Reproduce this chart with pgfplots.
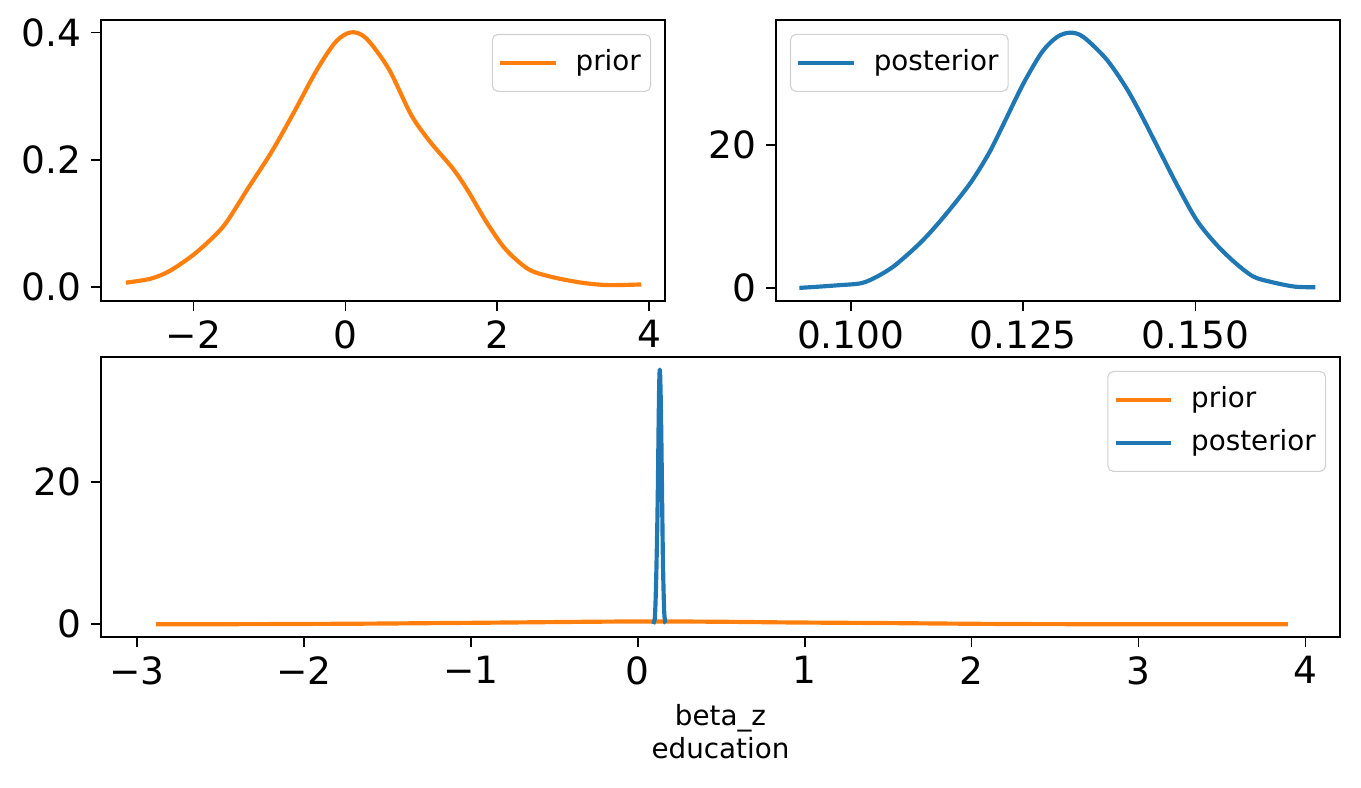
\documentclass[border=0pt]{standalone}
\usepackage{pgfplots}
\pgfplotsset{compat=1.18}
\usepackage{pgfplotstable}
\usepackage{fontspec}
\setmainfont{DejaVu Sans}
\definecolor{tabblue}{HTML}{1F77B4}
\definecolor{taborange}{HTML}{FF7F0E}

\pgfplotstableread{
x y
-2.887 0.0068
-2.564 0.013
-2.315 0.025
-2.017 0.049
-1.768 0.075
-1.569 0.101
-1.270 0.157
-0.972 0.212
-0.674 0.275
-0.375 0.341
-0.127 0.385
0.072 0.400
0.271 0.391
0.569 0.343
0.868 0.270
1.116 0.228
1.415 0.186
1.614 0.151
1.862 0.101
2.111 0.059
2.409 0.028
2.708 0.016
3.106 0.0068
3.454 0.003
3.894 0.004
}\priortab

\pgfplotstableread{
x y
0.09256 0.05
0.09546 0.23
0.09819 0.42
0.10148 0.70
0.10366 1.55
0.10640 3.19
0.11023 6.48
0.11351 10.0
0.11734 14.69
0.12007 18.92
0.12226 23.15
0.12500 28.54
0.12773 33.0
0.12992 35.12
0.13184 35.73
0.13375 35.12
0.13703 32.07
0.13977 28.3
0.14196 24.55
0.14469 19.39
0.14743 14.23
0.15016 9.53
0.15290 6.24
0.15563 3.66
0.15837 1.64
0.16110 0.85
0.16438 0.23
0.16739 0.14
}\posttab

\pgfplotsset{
  panel/.style={
    scale only axis, anchor=south west,
    axis line style={line width=0.6pt},
    tick style={line width=0.6pt, color=black},
    tick align=outside, major tick length=3.5pt,
    xtick pos=left, ytick pos=left,
    ticklabel style={font=\fontsize{13.5}{16}\selectfont},
    /pgf/number format/assume math mode=true,
    legend cell align=left,
    legend style={draw=black!18, rounded corners=2pt,
      font=\fontsize{10}{12}\selectfont,
      inner xsep=2pt, inner ysep=4pt,
      nodes={inner sep=1.5pt, text height=7.5pt, text depth=2pt},
      row sep=3pt,
      /tikz/every odd column/.append style={column sep=5pt}},
    legend image code/.code={\draw[##1] (0pt,0pt) -- (20pt,0pt);},
  },
  priorline/.style={taborange, line width=1.5pt, line join=round, smooth},
  postline/.style={tabblue, line width=1.5pt, line join=round, smooth},
}

\begin{document}
\begin{tikzpicture}
\path (0,0) rectangle (489.96pt,283.68pt);

% top-left: prior
\begin{axis}[panel,
  at={(36.36pt,175.32pt)}, width=203.04pt, height=101.16pt,
  xmin=-3.216, xmax=4.207, ymin=-0.022, ymax=0.4194,
  xtick={-2,0,2,4}, xticklabels={−2,0,2,4},
  ytick={0,0.2,0.4}, yticklabels={0.0,0.2,0.4},
  legend style={at={(1,1)}, anchor=north east, xshift=-5pt, yshift=-5pt},
]
\addplot[priorline] table[x=x,y=y] {\priortab};
\addlegendentry{prior}
\end{axis}

% top-right: posterior
\begin{axis}[panel,
  at={(279.36pt,175.32pt)}, width=203.04pt, height=101.16pt,
  xmin=0.08917, xmax=0.17095, ymin=-1.78, ymax=37.5,
  xtick={0.100,0.125,0.150}, xticklabels={0.100,0.125,0.150},
  ytick={0,20}, yticklabels={0,20},
  legend style={at={(0,1)}, anchor=north west, xshift=5pt, yshift=-5pt},
]
\addplot[postline] table[x=x,y=y] {\posttab};
\addlegendentry{posterior}
\end{axis}

% bottom: both
\begin{axis}[panel,
  at={(36.36pt,54.36pt)}, width=446.04pt, height=100.8pt,
  xmin=-3.216, xmax=4.207, ymin=-1.78, ymax=37.5,
  xtick={-3,-2,-1,0,1,2,3,4}, xticklabels={−3,−2,−1,0,1,2,3,4},
  ytick={0,20}, yticklabels={0,20},
  legend style={at={(1,1)}, anchor=north east, xshift=-5pt, yshift=-5pt},
  xlabel={beta\_z\\education},
  xlabel style={align=center, font=\fontsize{10}{12}\selectfont},
]
\addplot[priorline] table[x=x,y=y] {\priortab};
\addlegendentry{prior}
\addplot[postline] table[x=x,y=y] {\posttab};
\addlegendentry{posterior}
\end{axis}
\end{tikzpicture}
\end{document}
